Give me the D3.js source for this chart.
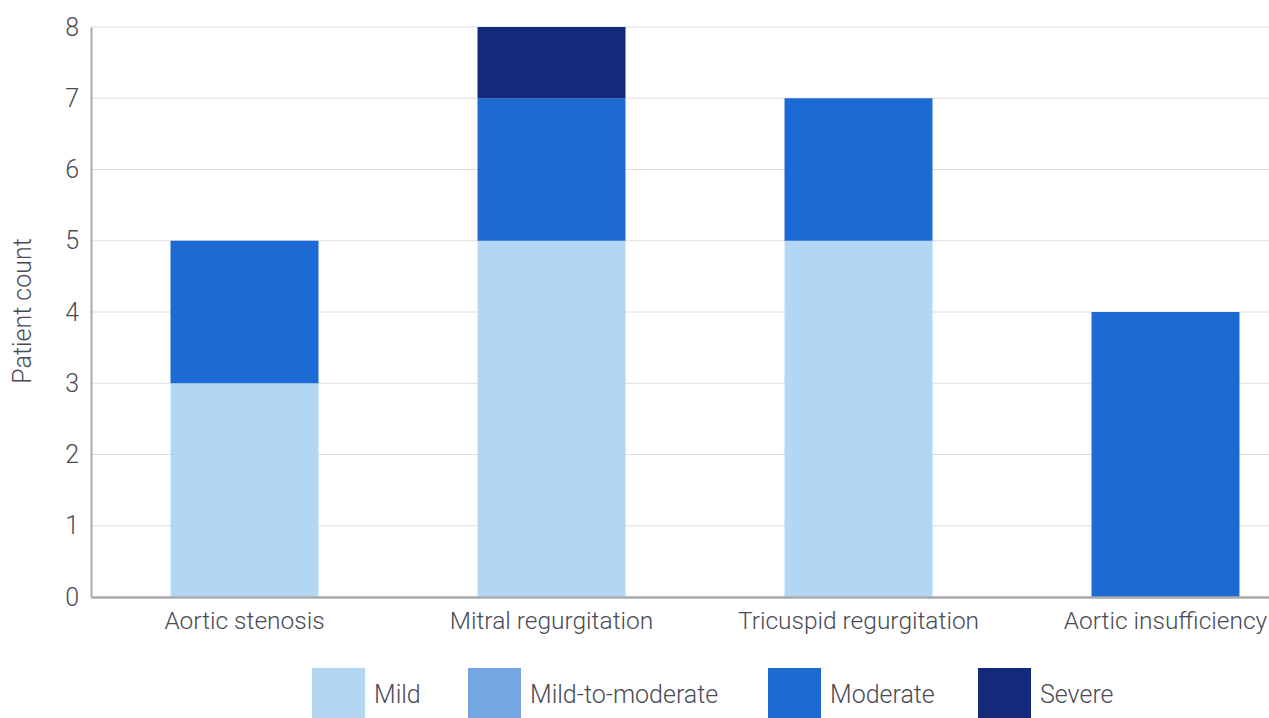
<!DOCTYPE html>
<html>
<head>
<meta charset="utf-8">
<script src="https://cdn.jsdelivr.net/npm/d3@7"></script>
<style>
  html, body { margin: 0; padding: 0; background: #fff; overflow: hidden; }
  svg { display: block; }
  svg text { font-family: Roboto, "Noto Sans", sans-serif; font-weight: 300; fill: #4a4a55; }
</style>
</head>
<body>
<svg id="chart" width="1269" height="718"></svg>
<script>
// Valve conditions and patient counts per severity grade
const categories = ["Aortic stenosis", "Mitral regurgitation", "Tricuspid regurgitation", "Aortic insufficiency"];
const severities = ["Mild", "Mild-to-moderate", "Moderate", "Severe"];
const mild = [3, 5, 5, 0];
const mildToModerate = [0, 0, 0, 0];
const moderate = [2, 2, 2, 4];
const severe = [0, 1, 0, 0];
const yTicks = [0, 1, 2, 3, 4, 5, 6, 7, 8];
const colors = ["#b3d6f3", "#76a6e2", "#1c6bd4", "#132a7a"];

const seriesValues = [mild, mildToModerate, moderate, severe];
const rows = categories.map((c, i) => {
  const r = { category: c };
  severities.forEach((s, j) => { r[s] = seriesValues[j][i]; });
  return r;
});

const svg = d3.select("#chart");
const plotLeft = 91, plotTop = 27, plotBottom = 597;
const step = 307;

const x = d3.scaleBand()
  .domain(categories)
  .range([plotLeft, plotLeft + step * categories.length])
  .paddingInner(0.518)
  .paddingOuter(0.259);

const y = d3.scaleLinear().domain([0, 8]).range([plotBottom, plotTop]);

// Horizontal gridlines
svg.append("g")
  .selectAll("line")
  .data(yTicks.filter(d => d > 0))
  .join("line")
  .attr("x1", plotLeft).attr("x2", 1269)
  .attr("y1", d => y(d)).attr("y2", d => y(d))
  .attr("stroke", "#dcdce4").attr("stroke-width", 1);

// Stacked bars
const stack = d3.stack().keys(severities)(rows);
svg.append("g")
  .selectAll("g")
  .data(stack)
  .join("g")
  .attr("fill", (d, i) => colors[i])
  .selectAll("rect")
  .data(d => d.filter(p => p[1] > p[0]))
  .join("rect")
  .attr("x", d => x(d.data.category))
  .attr("width", x.bandwidth())
  .attr("y", d => y(d[1]))
  .attr("height", d => y(d[0]) - y(d[1]));

// Y axis
const yAxis = svg.append("g")
  .attr("transform", `translate(${plotLeft},0)`)
  .call(d3.axisLeft(y).tickValues(yTicks).tickSize(0).tickPadding(12));
yAxis.attr("font-family", null).attr("font-size", 25);
yAxis.select(".domain").attr("stroke", "#a9a9b0").attr("stroke-width", 2);

// X axis
const xAxis = svg.append("g")
  .attr("transform", `translate(0,${plotBottom})`)
  .call(d3.axisBottom(x).tickSize(0).tickPadding(15));
xAxis.attr("font-family", null).attr("font-size", 24.5);
xAxis.select(".domain").attr("stroke", "#a9a9b0").attr("stroke-width", 2.5);

// Y axis title
svg.append("text")
  .attr("transform", "translate(31,311) rotate(-90)")
  .attr("text-anchor", "middle")
  .attr("font-size", 25)
  .text("Patient count");

// Legend: swatch + label per severity grade
const legendX = [312, 468, 768, 978];
const legend = svg.append("g");
severities.forEach((s, i) => {
  const g = legend.append("g").attr("transform", `translate(${legendX[i]},668)`);
  g.append("rect").attr("width", 53).attr("height", 52).attr("fill", colors[i]);
  g.append("text")
    .attr("x", 62).attr("y", 35)
    .attr("font-size", 25)
    .text(s);
});
</script>
</body>
</html>
